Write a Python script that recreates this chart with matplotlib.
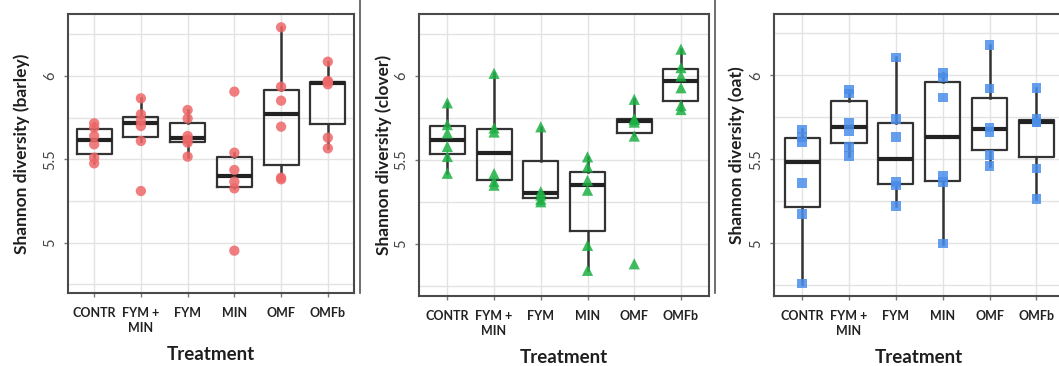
import matplotlib
matplotlib.use("Agg")
import matplotlib.pyplot as plt
from matplotlib.lines import Line2D

treatments = ["CONTR", "FYM +\nMIN", "FYM", "MIN", "OMF", "OMFb"]

barley_pts = [
    [5.476, 5.51, 5.59, 5.64, 5.69, 5.716],
    [5.31, 5.61, 5.70, 5.73, 5.77, 5.866],
    [5.516, 5.60, 5.62, 5.64, 5.745, 5.796],
    [4.952, 5.326, 5.366, 5.436, 5.54, 5.906],
    [5.38, 5.39, 5.696, 5.852, 5.936, 6.292],
    [5.566, 5.63, 5.95, 5.965, 5.97, 6.086],
]
clover_pts = [
    [5.42, 5.52, 5.58, 5.66, 5.71, 5.84],
    [5.349, 5.37, 5.418, 5.666, 5.69, 6.016],
    [5.25, 5.265, 5.29, 5.31, 5.697],
    [4.841, 4.99, 5.319, 5.378, 5.458, 5.518],
    [4.88, 5.642, 5.725, 5.74, 5.745, 5.861],
    [5.80, 5.825, 5.93, 6.00, 6.05, 6.16],
]
oat_pts = [
    [4.76, 5.173, 5.36, 5.60, 5.632, 5.678],
    [5.52, 5.575, 5.668, 5.72, 5.892, 5.915],
    [5.221, 5.345, 5.366, 5.632, 5.741, 6.107],
    [4.998, 5.366, 5.40, 5.868, 5.988, 6.012],
    [5.459, 5.525, 5.664, 5.69, 5.922, 6.181],
    [5.262, 5.445, 5.72, 5.72, 5.74, 5.926],
]

# box statistics: (whisker low, Q1, median, Q3, whisker high)
barley_box = [
    (5.476, 5.532, 5.616, 5.682, 5.716),
    (5.61, 5.632, 5.716, 5.756, 5.866),
    (5.516, 5.606, 5.63, 5.716, 5.796),
    (5.326, 5.336, 5.40, 5.514, 5.54),
    (5.38, 5.466, 5.772, 5.916, 6.292),
    (5.566, 5.71, 5.96, 5.966, 6.086),
]
clover_box = [
    (5.42, 5.532, 5.618, 5.703, 5.84),
    (5.349, 5.382, 5.542, 5.685, 6.016),
    (5.25, 5.273, 5.303, 5.492, 5.697),
    (4.841, 5.076, 5.349, 5.428, 5.518),
    (5.65, 5.663, 5.733, 5.743, 5.861),
    (5.80, 5.853, 5.970, 6.042, 6.159),
]
oat_box = [
    (4.76, 5.217, 5.481, 5.624, 5.678),
    (5.52, 5.598, 5.694, 5.849, 5.915),
    (5.221, 5.352, 5.499, 5.714, 6.107),
    (4.998, 5.37, 5.634, 5.958, 6.012),
    (5.459, 5.555, 5.678, 5.863, 6.181),
    (5.262, 5.515, 5.72, 5.734, 5.926),
]

panels = [
    dict(pts=barley_pts, box=barley_box, label="Shannon diversity (barley)",
         color="#EE6868", marker="o", ms=55,
         rect=[68/1059, 73/366, 286/1059, 279/366], xlim=(0.44, 6.56), ylim=(4.698, 6.372),
         ylab_x=-46/286, xlab_y=-62/279),
    dict(pts=clover_pts, box=clover_box, label="Shannon diversity (clover)",
         color="#1DB044", marker="^", ms=65,
         rect=[419.3/1059, 70/366, 289.7/1059, 281.7/366], xlim=(0.4, 6.6), ylim=(4.688, 6.368),
         ylab_x=-36/290, xlab_y=-62/282),
    dict(pts=oat_pts, box=oat_box, label="Shannon diversity (oat)",
         color="#4A8EEA", marker="s", ms=48,
         rect=[774/1059, 70.3/366, 290.6/1059, 281.7/366], xlim=(0.4, 6.6), ylim=(4.688, 6.365),
         ylab_x=-37/290, xlab_y=-62/282),
]

fig = plt.figure(figsize=(10.59, 3.66), dpi=100)
frame_col = "#4a4a4a"
grid_col = "#e3e3e3"
font = "Lato"

for p in panels:
    ax = fig.add_axes(p["rect"])
    ax.set_xlim(*p["xlim"])
    ax.set_ylim(*p["ylim"])
    pos = list(range(1, len(treatments) + 1))
    # grid
    for v in [4.75, 5.0, 5.25, 5.5, 5.75, 6.0, 6.25]:
        ax.axhline(v, color=grid_col, lw=1.0, zorder=0)
    for x in pos:
        ax.axvline(x, color=grid_col, lw=1.0, zorder=0)
    stats = []
    for name, b in zip(treatments, p["box"]):
        stats.append(dict(whislo=b[0], q1=b[1], med=b[2], q3=b[3], whishi=b[4], label=name))
    ax.bxp(stats, positions=pos, widths=0.75, showfliers=False, showcaps=False,
           boxprops=dict(color="#333333", lw=1.6),
           whiskerprops=dict(color="#333333", lw=1.8),
           medianprops=dict(color="#222222", lw=3.0), zorder=2)
    for x, vals in zip(pos, p["pts"]):
        ax.scatter([x] * len(vals), vals, s=p["ms"], marker=p["marker"],
                   color=p["color"], alpha=0.85, edgecolors="none", zorder=3)
    ax.set_xticks(pos)
    ax.set_xticklabels(treatments, fontsize=9, fontweight="bold", family=font,
                       color="#222222", linespacing=1.35)
    for t in ax.get_xticklabels():
        t.set_va("top")
    ax.set_yticks([5.0, 5.5, 6.0])
    ax.set_yticklabels(["5", "5.5", "6"], fontsize=10.5, family=font, color="#444444")
    for t in ax.get_yticklabels():
        t.set_rotation(90)
        t.set_va("center")
    ax.tick_params(axis="both", length=3, width=1, color="#777777")
    ax.tick_params(axis="x", pad=7)
    ax.tick_params(axis="y", pad=5)
    for s in ax.spines.values():
        s.set_color(frame_col)
        s.set_linewidth(1.5)
    ax.set_ylabel(p["label"], fontsize=12.5, fontweight="bold", family=font, color="#1e1e1e",
                  va="center")
    ax.yaxis.set_label_coords(p["ylab_x"], 0.5)
    ax.set_xlabel("Treatment", fontsize=13.5, fontweight="bold", family=font, color="#1e1e1e",
                  va="center")
    ax.xaxis.set_label_coords(0.5, p["xlab_y"])

# separators between the image panels
for xp in [360, 715]:
    fig.add_artist(Line2D([xp/1059, xp/1059], [1.0, (366-293)/366], color="#555555", lw=1.2))

fig.savefig("out.png", dpi=100)
